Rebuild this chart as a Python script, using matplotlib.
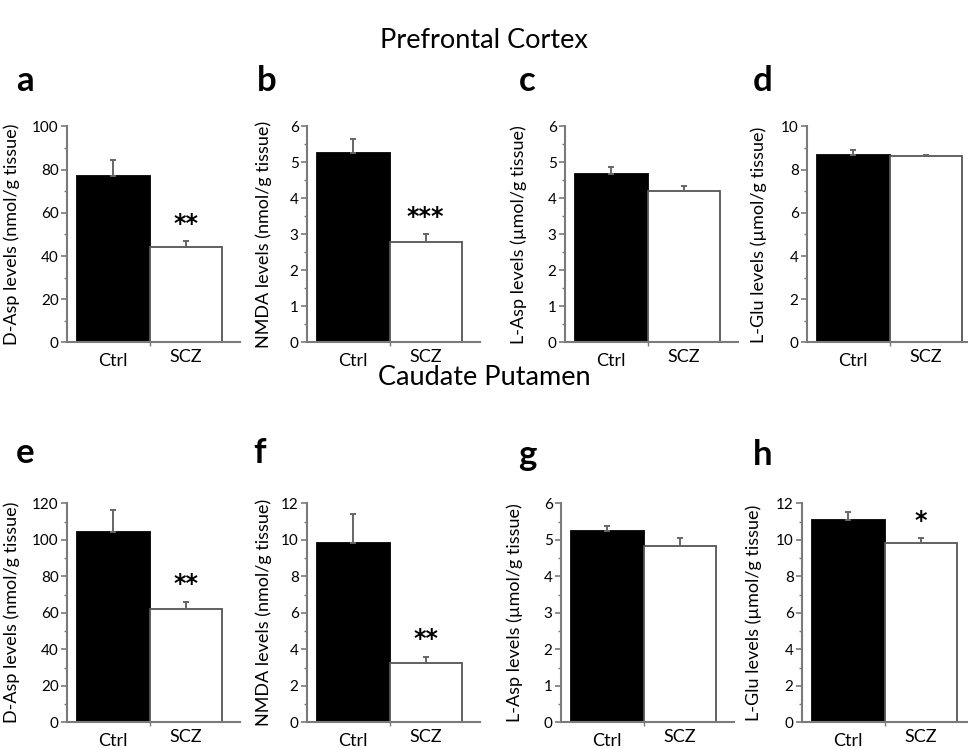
import matplotlib
matplotlib.use("Agg")
import matplotlib.pyplot as plt
from matplotlib.ticker import MultipleLocator, AutoMinorLocator
import matplotlib.transforms as mtransforms

plt.rcParams['font.family'] = ['Lato', 'DejaVu Sans']

# data (Ctrl, SCZ)
letters = ['a', 'b', 'c', 'd', 'e', 'f', 'g', 'h']
ylabels = ['D-Asp levels (nmol/g tissue)', 'NMDA levels (nmol/g tissue)',
           'L-Asp levels (\u00b5mol/g tissue)', 'L-Glu levels (\u00b5mol/g tissue)',
           'D-Asp levels (nmol/g tissue)', 'NMDA levels (nmol/g tissue)',
           'L-Asp levels (\u00b5mol/g tissue)', 'L-Glu levels (\u00b5mol/g tissue)']
ctrl_means = [77.2, 5.25, 4.68, 8.7, 104.5, 9.8, 5.23, 11.1]
ctrl_err = [7.5, 0.4, 0.19, 0.22, 12.0, 1.6, 0.15, 0.42]
scz_means = [44.0, 2.8, 4.22, 8.62, 62.0, 3.23, 4.82, 9.8]
scz_err = [3.0, 0.2, 0.14, 0.08, 4.0, 0.35, 0.22, 0.3]
stars = ['**', '***', '', '', '**', '**', '', '*']
ymax = [100, 6, 6, 10, 120, 12, 6, 12]
ystep = [20, 1, 1, 2, 20, 2, 1, 2]
groups = ['Ctrl', 'SCZ']

W, H = 968, 749
fig = plt.figure(figsize=(W / 100, H / 100), dpi=100)

# pixel layout of each panel: left of y axis, top tick, zero line
lefts = [67, 307, 565, 807, 67, 307, 561, 802]
tops = [126.5, 126.5, 126.5, 126.5, 503.3, 503.3, 503.3, 503.3]
bottoms = [342.5, 342.5, 342.5, 342.5, 722.3, 722.3, 722.3, 722.3]
letter_pos = [(25, 81), (267, 81), (527, 81), (763, 81),
              (25, 453), (260, 453), (527, 455), (763, 455)]
label_x = [-0.27, -0.2, -0.22, -0.23, -0.27, -0.2, -0.22, -0.23]
axw = 173
gray = '#7a7a7a'

for i in range(8):
    l, t, b = lefts[i], tops[i], bottoms[i]
    ax = fig.add_axes([l / W, 1 - b / H, axw / W, (b - t) / H])
    x = [0, 1]
    ax.bar(x, [ctrl_means[i], scz_means[i]], width=1.0,
           color=['black', 'white'], edgecolor=['black', '#555555'], linewidth=1.3,
           yerr=[[0, 0], [ctrl_err[i], scz_err[i]]],
           error_kw=dict(ecolor='#666666', elinewidth=1.4, capsize=2.5, capthick=1.4),
           zorder=2)
    ax.set_xlim(-0.64, 1.75)
    ax.set_ylim(0, ymax[i])
    ax.yaxis.set_major_locator(MultipleLocator(ystep[i]))
    ax.yaxis.set_minor_locator(AutoMinorLocator(2))
    ax.set_xticks([0.5])
    ax.set_xticklabels([''])
    for s in ['top', 'right']:
        ax.spines[s].set_visible(False)
    for s in ['left', 'bottom']:
        ax.spines[s].set_color(gray)
        ax.spines[s].set_linewidth(1.5)
    ax.spines['bottom'].set_zorder(3)
    ax.tick_params(axis='y', which='major', direction='out', length=4, width=1.2,
                   color=gray, labelsize=11, pad=2)
    ax.tick_params(axis='y', which='minor', direction='out', length=2, width=1.0,
                   color=gray)
    ax.tick_params(axis='x', direction='out', length=3, width=1.0, color=gray)
    ax.set_ylabel(ylabels[i], fontsize=13)
    ax.yaxis.set_label_coords(label_x[i], 0.5)

    # group names under the bars
    trans = mtransforms.blended_transform_factory(ax.transData, ax.transAxes)
    ax.text(0, -0.085, groups[0], transform=trans, ha='center', va='center', fontsize=13)
    ax.text(1, -0.065, groups[1], transform=trans, ha='center', va='center', fontsize=13)

    if stars[i]:
        ax.text(1, scz_means[i] + scz_err[i] + ymax[i] * 0.025, stars[i],
                ha='center', va='bottom', fontsize=17, fontweight='bold',
                family='DejaVu Sans')

    fig.text(letter_pos[i][0] / W, 1 - letter_pos[i][1] / H, letters[i],
             ha='center', va='center', fontsize=25, fontweight='bold')

fig.text(484 / W, 1 - 40 / H, 'Prefrontal Cortex', ha='center', va='center', fontsize=19.5)
fig.text(484 / W, 1 - 378 / H, 'Caudate Putamen', ha='center', va='center', fontsize=19.5)

fig.savefig('out.png', dpi=100)
